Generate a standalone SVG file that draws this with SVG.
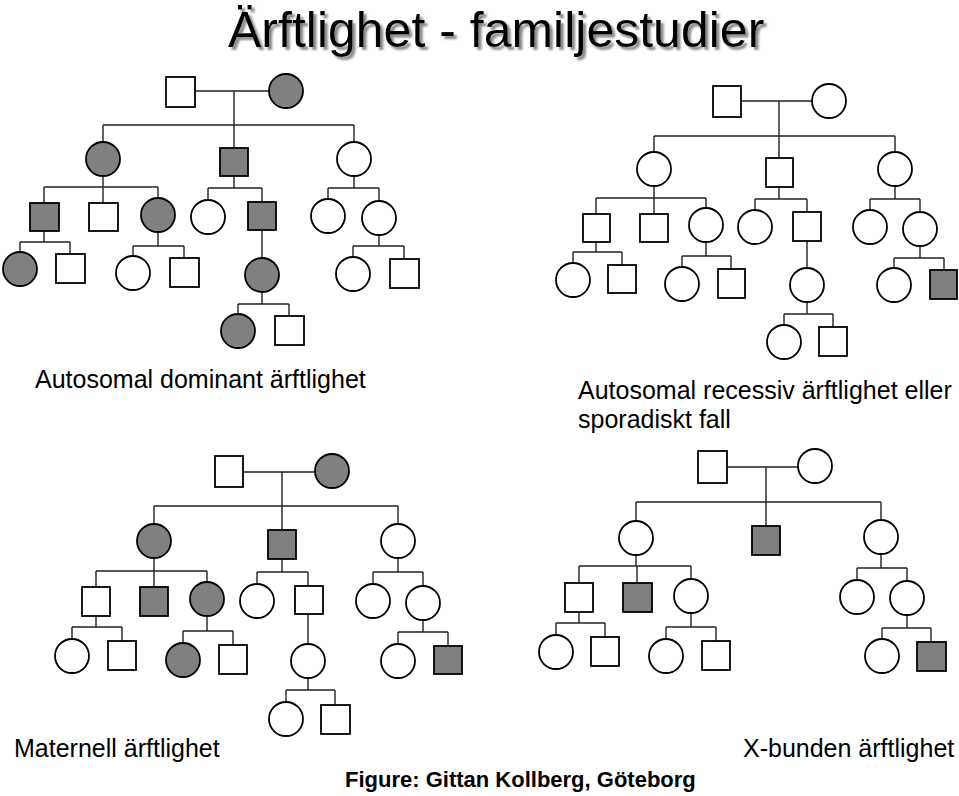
<svg xmlns="http://www.w3.org/2000/svg" width="959" height="796" viewBox="0 0 959 796">
<style>
.sq{fill:#fff;stroke:#000;stroke-width:1.8}
.ci{fill:#fff;stroke:#000;stroke-width:1.8}
.aff{fill:#808080}
.ln{fill:none;stroke:#222;stroke-width:1.4}
.t{font-family:"Liberation Sans",Arial,sans-serif;font-size:25px;fill:#000}
.title{font-family:"Liberation Sans",Arial,sans-serif;font-size:50px;fill:#000}
.cap{font-family:"Liberation Sans",Arial,sans-serif;font-size:22px;font-weight:bold;fill:#000}
</style>
<defs>
<filter id="sh" x="-5%" y="-20%" width="110%" height="150%">
<feDropShadow dx="3" dy="3" stdDeviation="1.2" flood-color="#888" flood-opacity="1"/>
</filter>
</defs>
<rect width="959" height="796" fill="#fff"/>

<g id="connectors" class="ln">
<!-- Q1 -->
<path d="M195 91H269M234 91V125M103 125H354M103 125V142M234 125V148M354 125V142"/>
<path d="M103 176V187M44 187H158M44 187V203M103 187V203M158 187V198"/>
<path d="M234 176V188M208 188H262M208 188V199M262 188V202"/>
<path d="M354 176V188M328 188H379M328 188V199M379 188V201"/>
<path d="M44 231V242M20 242H70M20 242V252M70 242V254"/>
<path d="M158 232V246M133 246H184M133 246V256M184 246V258"/>
<path d="M262 230V258"/>
<path d="M379 235V246M353 246H404M353 246V257M404 246V259"/>
<path d="M262 292V304M238 304H289M238 304V314M289 304V316"/>
<!-- Q2 -->
<path d="M741 101H812M779 101V136M654 136H895M654 136V152M779 136V158M895 136V152"/>
<path d="M654 186V198M596 198H706M596 198V214M654 198V214M706 198V208"/>
<path d="M779 186V199M755 199H807M755 199V210M807 199V212"/>
<path d="M895 186V199M870 199H920M870 199V210M920 199V212"/>
<path d="M596 242V252M573 252H622M573 252V263M622 252V265"/>
<path d="M706 242V256M682 256H731M682 256V267M731 256V269"/>
<path d="M807 240V268"/>
<path d="M920 246V258M894 258H944M894 258V268M944 258V270"/>
<path d="M807 302V314M784 314H833M784 314V325M833 314V327"/>
<!-- Q3 -->
<path d="M243 472H315M282 472V506M154 506H398M154 506V524M282 506V530M398 506V524"/>
<path d="M154 558V571M96 571H207M96 571V587M154 571V587M207 571V582"/>
<path d="M282 558V572M257 572H308M257 572V584M308 572V586"/>
<path d="M398 558V572M373 572H423M373 572V584M423 572V586"/>
<path d="M96 615V627M72 627H122M72 627V639M122 627V641"/>
<path d="M207 616V631M183 631H233M183 631V643M233 631V645"/>
<path d="M308 614V644"/>
<path d="M423 620V632M398 632H448M398 632V644M448 632V646"/>
<path d="M308 678V690M286 690H335M286 690V702M335 690V705"/>
<!-- Q4 -->
<path d="M726 467H798M766 467V502M636 502H881M636 502V521M766 502V526M881 502V520"/>
<path d="M636 555V566M579 566H691M579 566V583M637 566V583M691 566V579"/>
<path d="M881 554V568M857 568H907M857 568V580M907 568V581"/>
<path d="M579 611V623M556 623H605M556 623V635M605 623V637"/>
<path d="M691 613V627M666 627H716M666 627V639M716 627V641"/>
<path d="M907 615V628M882 628H931M882 628V639M931 628V642"/>
</g>

<!-- Q1 nodes -->
<g id="q1-f"><rect class="sq" x="166" y="77" width="29" height="30"/></g>
<g id="q1-m"><circle class="ci aff" cx="286" cy="91" r="17"/></g>
<g id="q1-a"><circle class="ci aff" cx="103" cy="159" r="17"/></g>
<g id="q1-b"><rect class="sq aff" x="220" y="148" width="28" height="28"/></g>
<g id="q1-c"><circle class="ci" cx="354" cy="159" r="17"/></g>
<g id="q1-a1"><rect class="sq aff" x="30" y="203" width="29" height="28"/></g>
<g id="q1-a2"><rect class="sq" x="89" y="203" width="29" height="28"/></g>
<g id="q1-a3"><circle class="ci aff" cx="158" cy="215" r="17"/></g>
<g id="q1-b1"><circle class="ci" cx="208" cy="217" r="17"/></g>
<g id="q1-b2"><rect class="sq aff" x="248" y="202" width="28" height="28"/></g>
<g id="q1-c1"><circle class="ci" cx="328" cy="216" r="17"/></g>
<g id="q1-c2"><circle class="ci" cx="379" cy="218" r="17"/></g>
<g id="q1-a1a"><circle class="ci aff" cx="20" cy="269" r="17"/></g>
<g id="q1-a1b"><rect class="sq" x="56" y="254" width="29" height="29"/></g>
<g id="q1-a3a"><circle class="ci" cx="133" cy="273" r="17"/></g>
<g id="q1-a3b"><rect class="sq" x="170" y="258" width="29" height="29"/></g>
<g id="q1-b2a"><circle class="ci aff" cx="262" cy="275" r="17"/></g>
<g id="q1-c2a"><circle class="ci" cx="353" cy="274" r="17"/></g>
<g id="q1-c2b"><rect class="sq" x="390" y="259" width="29" height="29"/></g>
<g id="q1-e1"><circle class="ci aff" cx="238" cy="331" r="17"/></g>
<g id="q1-e2"><rect class="sq" x="275" y="316" width="29" height="29"/></g>

<!-- Q2 nodes -->
<g id="q2-f"><rect class="sq" x="713" y="86" width="28" height="31"/></g>
<g id="q2-m"><circle class="ci" cx="829" cy="101" r="17"/></g>
<g id="q2-a"><circle class="ci" cx="654" cy="169" r="17"/></g>
<g id="q2-b"><rect class="sq" x="766" y="158" width="27" height="29"/></g>
<g id="q2-c"><circle class="ci" cx="895" cy="169" r="17"/></g>
<g id="q2-a1"><rect class="sq" x="583" y="214" width="27" height="28"/></g>
<g id="q2-a2"><rect class="sq" x="640" y="214" width="28" height="28"/></g>
<g id="q2-a3"><circle class="ci" cx="706" cy="225" r="17"/></g>
<g id="q2-b1"><circle class="ci" cx="755" cy="227" r="17"/></g>
<g id="q2-b2"><rect class="sq" x="793" y="212" width="28" height="29"/></g>
<g id="q2-c1"><circle class="ci" cx="870" cy="227" r="17"/></g>
<g id="q2-c2"><circle class="ci" cx="920" cy="229" r="17"/></g>
<g id="q2-a1a"><circle class="ci" cx="573" cy="280" r="17"/></g>
<g id="q2-a1b"><rect class="sq" x="608" y="265" width="28" height="28"/></g>
<g id="q2-a3a"><circle class="ci" cx="682" cy="284" r="17"/></g>
<g id="q2-a3b"><rect class="sq" x="718" y="269" width="27" height="29"/></g>
<g id="q2-b2a"><circle class="ci" cx="807" cy="285" r="17"/></g>
<g id="q2-c2a"><circle class="ci" cx="894" cy="285" r="17"/></g>
<g id="q2-c2b"><rect class="sq aff" x="930" y="270" width="27" height="29"/></g>
<g id="q2-e1"><circle class="ci" cx="784" cy="342" r="17"/></g>
<g id="q2-e2"><rect class="sq" x="819" y="327" width="28" height="29"/></g>

<!-- Q3 nodes -->
<g id="q3-f"><rect class="sq" x="215" y="456" width="28" height="31"/></g>
<g id="q3-m"><circle class="ci aff" cx="332" cy="471" r="17"/></g>
<g id="q3-a"><circle class="ci aff" cx="154" cy="541" r="17"/></g>
<g id="q3-b"><rect class="sq aff" x="268" y="530" width="28" height="29"/></g>
<g id="q3-c"><circle class="ci" cx="398" cy="541" r="17"/></g>
<g id="q3-a1"><rect class="sq" x="82" y="587" width="28" height="29"/></g>
<g id="q3-a2"><rect class="sq aff" x="140" y="587" width="28" height="29"/></g>
<g id="q3-a3"><circle class="ci aff" cx="207" cy="599" r="17"/></g>
<g id="q3-b1"><circle class="ci" cx="257" cy="601" r="17"/></g>
<g id="q3-b2"><rect class="sq" x="295" y="586" width="28" height="28"/></g>
<g id="q3-c1"><circle class="ci" cx="373" cy="601" r="17"/></g>
<g id="q3-c2"><circle class="ci" cx="423" cy="603" r="17"/></g>
<g id="q3-a1a"><circle class="ci" cx="72" cy="656" r="17"/></g>
<g id="q3-a1b"><rect class="sq" x="108" y="641" width="28" height="29"/></g>
<g id="q3-a3a"><circle class="ci aff" cx="183" cy="660" r="17"/></g>
<g id="q3-a3b"><rect class="sq" x="219" y="645" width="28" height="29"/></g>
<g id="q3-b2a"><circle class="ci" cx="308" cy="661" r="17"/></g>
<g id="q3-c2a"><circle class="ci" cx="398" cy="661" r="17"/></g>
<g id="q3-c2b"><rect class="sq aff" x="434" y="646" width="28" height="28"/></g>
<g id="q3-e1"><circle class="ci" cx="286" cy="719" r="17"/></g>
<g id="q3-e2"><rect class="sq" x="321" y="705" width="29" height="29"/></g>

<!-- Q4 nodes -->
<g id="q4-f"><rect class="sq" x="698" y="451" width="29" height="32"/></g>
<g id="q4-m"><circle class="ci" cx="815" cy="466" r="17"/></g>
<g id="q4-a"><circle class="ci" cx="636" cy="538" r="17"/></g>
<g id="q4-b"><rect class="sq aff" x="752" y="526" width="28" height="29"/></g>
<g id="q4-c"><circle class="ci" cx="881" cy="537" r="17"/></g>
<g id="q4-a1"><rect class="sq" x="565" y="583" width="28" height="29"/></g>
<g id="q4-a2"><rect class="sq aff" x="623" y="583" width="29" height="29"/></g>
<g id="q4-a3"><circle class="ci" cx="691" cy="596" r="17"/></g>
<g id="q4-c1"><circle class="ci" cx="857" cy="597" r="17"/></g>
<g id="q4-c2"><circle class="ci" cx="907" cy="598" r="17"/></g>
<g id="q4-a1a"><circle class="ci" cx="556" cy="652" r="17"/></g>
<g id="q4-a1b"><rect class="sq" x="591" y="637" width="28" height="29"/></g>
<g id="q4-a3a"><circle class="ci" cx="666" cy="656" r="17"/></g>
<g id="q4-a3b"><rect class="sq" x="702" y="641" width="28" height="29"/></g>
<g id="q4-c2a"><circle class="ci" cx="882" cy="656" r="17"/></g>
<g id="q4-c2b"><rect class="sq aff" x="917" y="642" width="29" height="29"/></g>

<g id="texts">
<text class="title" x="228" y="47" filter="url(#sh)">Ärftlighet - familjestudier</text>
<text class="t" x="35" y="388">Autosomal dominant ärftlighet</text>
<text class="t" x="578" y="399">Autosomal recessiv ärftlighet eller</text>
<text class="t" x="578" y="428">sporadiskt fall</text>
<text class="t" x="14" y="757">Maternell ärftlighet</text>
<text class="t" x="743" y="757">X-bunden ärftlighet</text>
<text class="cap" x="345" y="787">Figure: Gittan Kollberg, Göteborg</text>
</g>
</svg>
